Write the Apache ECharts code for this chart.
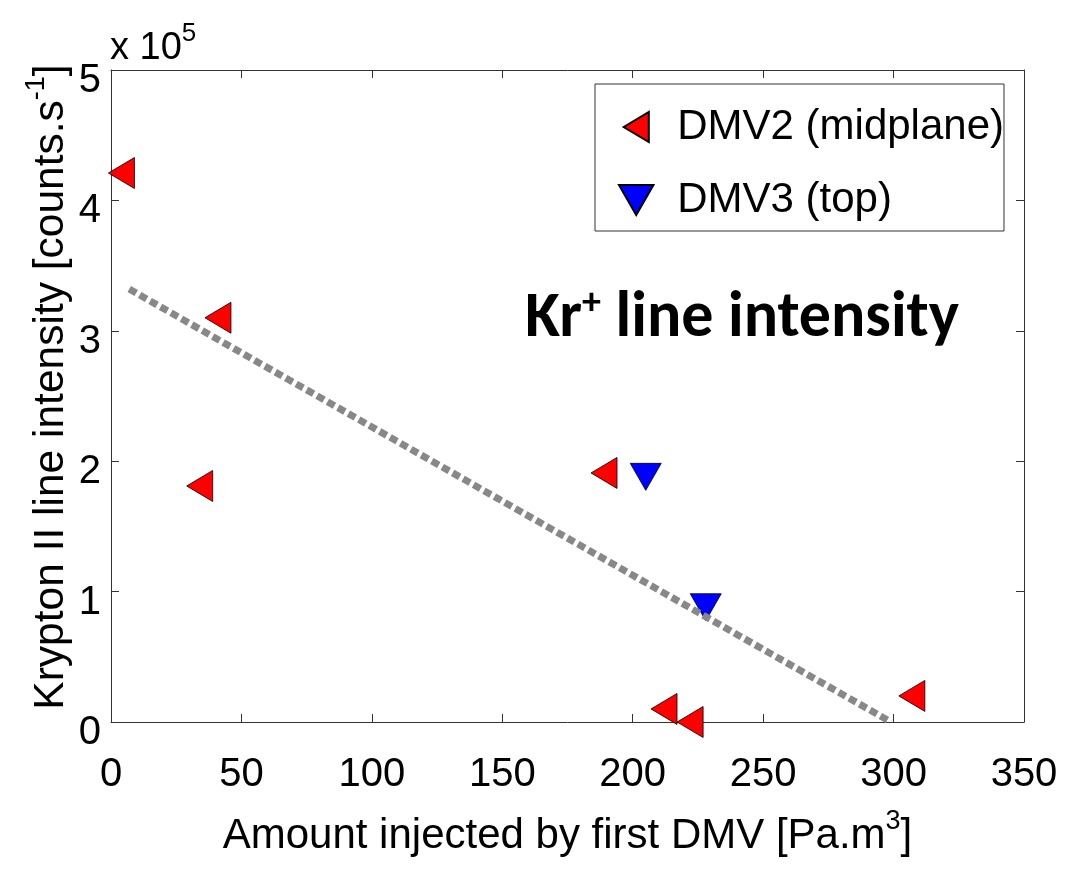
<!DOCTYPE html>
<html>
<head>
<meta charset="utf-8">
<script src="https://cdn.jsdelivr.net/npm/echarts@6/dist/echarts.min.js"></script>
<style>
  html, body { margin: 0; padding: 0; background: #fff; }
  #chart { width: 1076px; height: 869px; }
</style>
</head>
<body>
<div id="chart"></div>
<script>
// ---- data ----
const dmv2X = [4, 34, 41, 189, 212, 222, 307];
const dmv2Y = [421000, 181000, 310000, 191000, 10000, 0, 20000];
const dmv3X = [205, 228];
const dmv3Y = [188000, 88000];
const fitX = [7, 299];
const fitY = [332000, 0];
const xTicks = [0, 50, 100, 150, 200, 250, 300, 350];
const yTicks = [0, 100000, 200000, 300000, 400000, 500000];
const seriesNames = ['DMV2 (midplane)', 'DMV3 (top)'];

const pairs = (xs, ys) => xs.map((x, i) => [x, ys[i]]);

const FONT = '"Liberation Sans", Arial, sans-serif';
const TITLE_FONT = 'Carlito, Lato, sans-serif';
const LEFT_TRI = 'path://M0,15.5L26,0L26,31Z';
const DOWN_TRI = 'path://M0,0L31,0L15.5,27Z';

const chart = echarts.init(document.getElementById('chart'), null, { renderer: 'canvas' });

function axisBase() {
  return {
    axisLine: { show: true, onZero: false, lineStyle: { color: '#333', width: 1 } },
    axisTick: { show: true, inside: true, length: 8, lineStyle: { color: '#333', width: 1 } },
    splitLine: { show: false }
  };
}

const option = {
  backgroundColor: '#fff',
  animation: false,
  grid: { left: 111, right: 52, top: 70, bottom: 143, containLabel: false },
  xAxis: [
    Object.assign(axisBase(), {
      type: 'value', position: 'bottom',
      min: xTicks[0], max: xTicks[xTicks.length - 1], interval: 50,
      axisLabel: { margin: 33, fontSize: 40, color: '#000', fontFamily: FONT },
      name: 'Amount injected by first DMV [Pa.m{sup|3}]',
      nameLocation: 'middle', nameGap: 86,
      nameTextStyle: {
        fontSize: 42, color: '#000', fontFamily: FONT, lineHeight: 56,
        rich: { sup: { fontSize: 27, lineHeight: 27, verticalAlign: 'top', color: '#000', fontFamily: FONT } }
      }
    }),
    Object.assign(axisBase(), {
      type: 'value', position: 'top',
      min: xTicks[0], max: xTicks[xTicks.length - 1], interval: 50,
      axisLabel: { show: false }
    })
  ],
  yAxis: [
    Object.assign(axisBase(), {
      type: 'value', position: 'left',
      min: yTicks[0], max: yTicks[yTicks.length - 1], interval: 100000,
      axisLabel: {
        margin: 10, fontSize: 40, color: '#000', fontFamily: FONT,
        verticalAlign: 'top', lineHeight: 22,
        formatter: v => String(v / 100000)
      },
      name: 'Krypton II line intensity [counts.s{sup|-1}]',
      nameLocation: 'middle', nameGap: 32, nameMoveOverlap: false,
      nameTextStyle: {
        fontSize: 42.5, color: '#000', fontFamily: FONT, lineHeight: 56,
        padding: [0, 0, 0, 18],
        rich: { sup: { fontSize: 27, lineHeight: 27, verticalAlign: 'top', color: '#000', fontFamily: FONT } }
      }
    }),
    Object.assign(axisBase(), {
      type: 'value', position: 'right',
      min: yTicks[0], max: yTicks[yTicks.length - 1], interval: 100000,
      axisLabel: { show: false }
    })
  ],
  legend: {
    data: seriesNames,
    orient: 'vertical',
    left: 595, top: 84,
    padding: [22, 0, 10, 23],
    itemWidth: 72, itemHeight: 30, itemGap: 31,
    backgroundColor: '#fff',
    borderColor: '#333', borderWidth: 1, borderRadius: 0,
    selectedMode: false,
    textStyle: { fontSize: 42, color: '#000', fontFamily: FONT, lineHeight: 30 }
  },
  graphic: [
    {
      type: 'text', left: 110, top: 21, silent: true,
      style: {
        text: '{m|x 10}{s|5}',
        rich: {
          m: { fontSize: 38, lineHeight: 56, fill: '#000', fontFamily: FONT },
          s: { fontSize: 26, lineHeight: 26, verticalAlign: 'top', fill: '#000', fontFamily: FONT }
        }
      }
    },
    {
      type: 'text', x: 525, y: 320, silent: true,
      style: {
        text: '{a|Kr}{s|+}{a| line intensity}',
        verticalAlign: 'middle',
        rich: {
          a: { fontSize: 64, fontWeight: 'bold', fontFamily: TITLE_FONT, fill: '#000', lineHeight: 70 },
          s: { fontSize: 38, fontWeight: 'bold', fontFamily: TITLE_FONT, fill: '#000', lineHeight: 38, verticalAlign: 'top' }
        }
      }
    }
  ],
  series: [
    {
      name: seriesNames[0], type: 'scatter',
      xAxisIndex: 0, yAxisIndex: 0,
      symbol: LEFT_TRI, symbolSize: [26, 31],
      itemStyle: { color: '#ff0000', borderColor: '#000', borderWidth: 0.8, opacity: 1 },
      data: pairs(dmv2X, dmv2Y), z: 3, clip: false
    },
    {
      name: seriesNames[1], type: 'scatter',
      xAxisIndex: 0, yAxisIndex: 0,
      symbol: DOWN_TRI, symbolSize: [31, 27],
      itemStyle: { color: '#0000ff', borderColor: '#000', borderWidth: 0.8, opacity: 1 },
      data: pairs(dmv3X, dmv3Y), z: 3, clip: false
    },
    {
      name: 'fit', type: 'line',
      xAxisIndex: 0, yAxisIndex: 0,
      data: pairs(fitX, fitY),
      symbol: 'none', silent: true,
      lineStyle: { color: '#888888', width: 7, type: [8, 4], cap: 'butt' },
      z: 4
    }
  ]
};

chart.setOption(option);
</script>
</body>
</html>
